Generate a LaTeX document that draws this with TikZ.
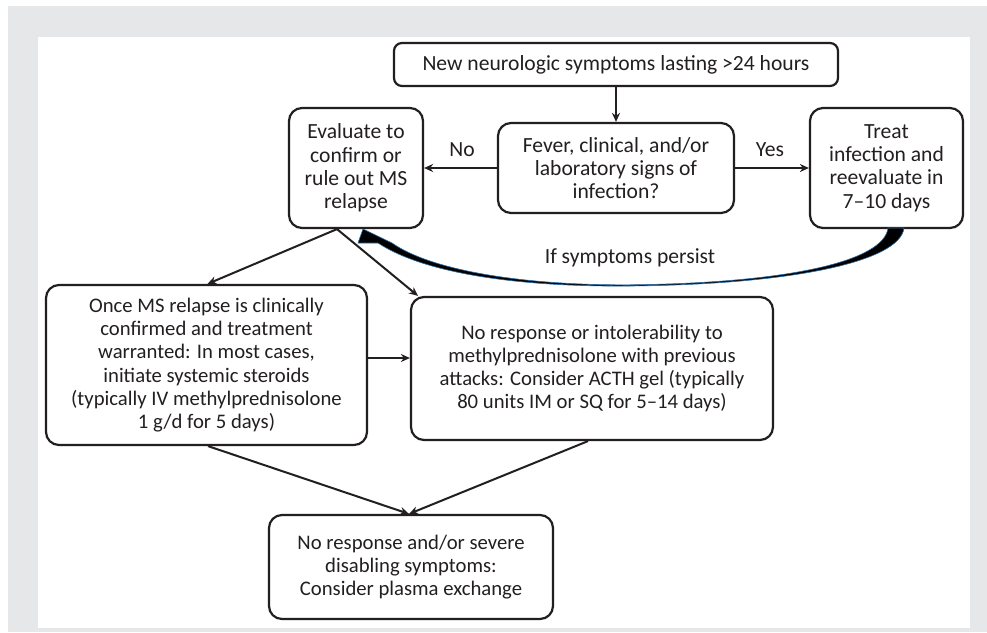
\documentclass[tikz,border=0pt]{standalone}
\usepackage{fontspec}
\setmainfont{Carlito}
\usetikzlibrary{arrows.meta}
\definecolor{bg}{HTML}{E6E7E8}
\definecolor{ink}{HTML}{231F20}
\definecolor{edgeblue}{HTML}{2B6CA3}
\begin{document}
\begin{tikzpicture}[x=1pt,y=-1pt,
  box/.style={draw=ink, line width=2.2pt, rounded corners=13pt, align=center, inner sep=0pt, text=ink, font=\fontsize{21.6}{23.3}\selectfont},
  lowbox/.style={box, font=\fontsize{20.7}{23.3}\selectfont},
  arr/.style={draw=ink, line width=2pt, -{Stealth[length=9pt,width=8pt]}},
  lbl/.style={text=ink, inner sep=0pt, font=\fontsize{21.6}{23.3}\selectfont}]
\fill[white] (0,0) rectangle (987,632);
\fill[bg] (8,6) rectangle (987,632);
\fill[white] (38,37) rectangle (970,628);
\useasboundingbox (0,0) rectangle (987,632);

\node[box, rounded corners=8pt, minimum width=444pt, minimum height=43pt] (top) at (616,64.5) {New neurologic symptoms lasting >24 hours};
\node[box, minimum width=236pt, minimum height=90pt] (fever) at (616,168) {Fever, clinical, and/or\\laboratory signs of\\infection?};
\node[box, minimum width=134pt, minimum height=120pt] (eval) at (356,168) {Evaluate to\\confirm or\\rule out MS\\relapse};
\node[box, minimum width=153pt, minimum height=120pt] (treat) at (886.5,168) {Treat\\infection and\\reevaluate in\\7–10 days};
\node[lowbox, minimum width=321pt, minimum height=160pt] (ster) at (206.5,365) {Once MS relapse is clinically\\confirmed and treatment\\warranted: In most cases,\\initiate systemic steroids\\(typically IV methylprednisolone\\1 g/d for 5 days)};
\node[lowbox, minimum width=362pt, minimum height=143pt] (acth) at (592,368.5) {No response or intolerability to\\methylprednisolone with previous\\attacks: Consider ACTH gel (typically\\80 units IM or SQ for 5–14 days)};
\node[lowbox, minimum width=284pt, minimum height=104pt] (plasma) at (411,567) {No response and/or severe\\disabling symptoms:\\Consider plasma exchange};

\draw[arr] (top) -- (fever);
\draw[arr] (fever) -- (eval);
\draw[arr] (fever) -- (treat);
\node[lbl] (no) at (462,150) {No};
\node[lbl] (yes) at (770,150) {Yes};

\draw[arr] ([xshift=-19pt]eval.south) -- ([xshift=1pt]ster.north);
\draw[arr] ([xshift=-19pt]eval.south) -- ([xshift=-174pt]acth.north);
\draw[arr] ([yshift=7pt]ster.east) -- ([yshift=7pt]ster.east -| acth.west);
\draw[arr] ([xshift=1.5pt]ster.south) -- ([xshift=-2pt]plasma.north);
\draw[arr] ([xshift=-4pt]acth.south) -- ([xshift=-2pt]plasma.north);

\filldraw[fill=black, draw=edgeblue, line width=0.6pt, line join=round]
  (888,228) .. controls (884,261) and (790,283) .. (630,284.8)
  .. controls (525,285.5) and (432,271) .. (392,243)
  -- (363,229) -- (358,243) -- (378,243)
  .. controls (427,275) and (525,287) .. (630,286)
  .. controls (790,284.5) and (900,262) .. (904,228) -- cycle;
\node[lbl] (persist) at (630,258) {If symptoms persist};
\end{tikzpicture}
\end{document}
